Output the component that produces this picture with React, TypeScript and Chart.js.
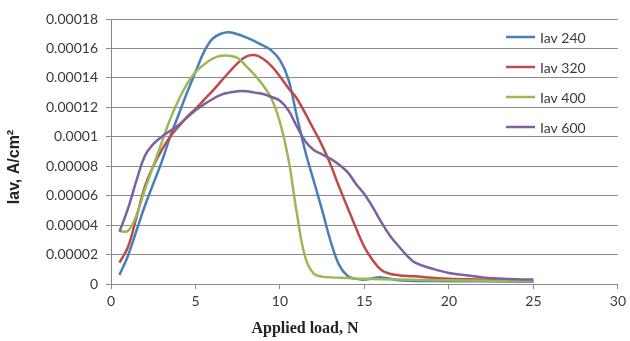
import React, { useEffect, useRef } from "react";
import { Chart, registerables } from "chart.js";

Chart.register(...registerables);

const seriesNames = ["Iav 240", "Iav 320", "Iav 400", "Iav 600"];
const seriesColors = ["#4A7EBB", "#BE4B48", "#98B954", "#7D60A0"];

const loads240 = [0.5, 1, 1.5, 2, 2.5, 3, 3.5, 4, 4.5, 5, 5.5, 6, 6.5, 7, 8, 9, 9.5, 10, 10.5, 11, 11.5, 12, 12.5, 13, 13.5, 14, 14.5, 15, 16, 17, 19, 22, 25];
const iav240 = [6.1e-6, 1.9e-5, 3.6e-5, 5.3e-5, 6.8e-5, 8.3e-5, 1.0e-4, 1.15e-4, 1.3e-4, 1.44e-4, 1.575e-4, 1.665e-4, 1.7e-4, 1.71e-4, 1.675e-4, 1.62e-4, 1.585e-4, 1.52e-4, 1.39e-4, 1.14e-4, 9.0e-5, 7.0e-5, 5.0e-5, 2.9e-5, 1.3e-5, 5.5e-6, 3.5e-6, 3e-6, 4.5e-6, 2.5e-6, 2e-6, 1.8e-6, 1.5e-6];

const loads320 = [0.5, 1, 1.5, 2, 2.5, 3, 3.5, 4, 4.5, 5, 5.5, 6, 6.5, 7, 7.5, 8, 8.5, 9, 9.5, 10, 10.5, 11, 12, 12.5, 13, 13.5, 14, 14.5, 15, 15.5, 16, 16.5, 17, 18, 19, 20, 22, 25];
const iav320 = [1.45e-5, 2.5e-5, 4.5e-5, 6.6e-5, 8.0e-5, 9.1e-5, 1.0e-4, 1.07e-4, 1.135e-4, 1.19e-4, 1.25e-4, 1.31e-4, 1.375e-4, 1.44e-4, 1.5e-4, 1.545e-4, 1.555e-4, 1.53e-4, 1.48e-4, 1.41e-4, 1.33e-4, 1.26e-4, 1.05e-4, 9.4e-5, 8.1e-5, 6.6e-5, 5.2e-5, 3.8e-5, 2.5e-5, 1.6e-5, 9.5e-6, 7e-6, 6e-6, 5.2e-6, 4.2e-6, 3.5e-6, 3e-6, 2.2e-6];

const loads400 = [0.5, 1, 1.5, 2, 2.5, 3, 3.5, 4, 4.5, 5, 5.5, 6, 6.5, 7, 7.5, 8, 8.5, 9, 9.5, 10, 10.5, 11, 11.5, 12, 12.5, 13, 14, 15, 17, 20, 25];
const iav400 = [3.6e-5, 3.6e-5, 4.65e-5, 6.4e-5, 8.0e-5, 9.6e-5, 1.12e-4, 1.25e-4, 1.36e-4, 1.44e-4, 1.49e-4, 1.53e-4, 1.55e-4, 1.55e-4, 1.535e-4, 1.48e-4, 1.42e-4, 1.35e-4, 1.26e-4, 1.1e-4, 8.5e-5, 4.8e-5, 1.8e-5, 7e-6, 5e-6, 4.5e-6, 4e-6, 3.5e-6, 3e-6, 2.5e-6, 2e-6];

const loads600 = [0.5, 1, 1.5, 2, 2.5, 3, 3.5, 4, 4.5, 5, 5.5, 6, 6.5, 7, 7.5, 8, 8.5, 9, 9.5, 10, 10.5, 11, 11.5, 12, 12.5, 13, 13.5, 14, 14.5, 15, 15.5, 16, 16.5, 17, 17.5, 18, 19, 20, 21, 22, 23, 24, 25];
const iav600 = [3.55e-5, 5.1e-5, 7.0e-5, 8.7e-5, 9.5e-5, 1.0e-4, 1.04e-4, 1.08e-4, 1.13e-4, 1.18e-4, 1.22e-4, 1.255e-4, 1.285e-4, 1.3e-4, 1.31e-4, 1.31e-4, 1.3e-4, 1.29e-4, 1.27e-4, 1.245e-4, 1.18e-4, 1.07e-4, 9.7e-5, 9.1e-5, 8.8e-5, 8.5e-5, 8.1e-5, 7.6e-5, 6.8e-5, 6.1e-5, 5.2e-5, 4.2e-5, 3.3e-5, 2.6e-5, 1.95e-5, 1.45e-5, 1.05e-5, 7.5e-6, 6e-6, 4.5e-6, 3.8e-6, 3.3e-6, 3e-6];

const xTickLabels = ["0", "5", "10", "15", "20", "25", "30"];
const yTickLabels = ["0", "0.00002", "0.00004", "0.00006", "0.00008", "0.0001", "0.00012", "0.00014", "0.00016", "0.00018"];

const xTitle = "Applied load, N";
const yTitle = "Iav, A/cm\u00B2";

const allLoads = [loads240, loads320, loads400, loads600];
const allIav = [iav240, iav320, iav400, iav600];

const GRID = "#8a8a8a";
const TEXT = "#3a3a3a";

export default function App() {
  const ref = useRef<HTMLCanvasElement | null>(null);

  useEffect(() => {
    if (!ref.current) return;
    const datasets = seriesNames.map((name, i) => ({
      label: name,
      data: allLoads[i].map((x, j) => ({ x, y: allIav[i][j] })),
      borderColor: seriesColors[i],
      backgroundColor: seriesColors[i],
      borderWidth: 2.5,
      pointRadius: 0,
      tension: 0.4,
      fill: false,
      order: 3 - i,
    }));

    const overlay = {
      id: "overlay",
      afterDraw(chart: any) {
        const ctx = chart.ctx;
        ctx.save();
        const rows = [37, 67, 97, 127];
        ctx.font = "14px Lato";
        ctx.textBaseline = "middle";
        ctx.textAlign = "left";
        seriesNames.forEach((n, i) => {
          ctx.strokeStyle = seriesColors[i];
          ctx.lineWidth = 2.5;
          ctx.beginPath();
          ctx.moveTo(506, rows[i]);
          ctx.lineTo(535, rows[i]);
          ctx.stroke();
          ctx.fillStyle = TEXT;
          ctx.fillText(n, 540, rows[i] + 1);
        });
        ctx.fillStyle = "#222";
        ctx.font = "bold 16px 'Liberation Serif'";
        ctx.textAlign = "center";
        ctx.fillText(xTitle, 305, 329);
        ctx.translate(15, 167);
        ctx.rotate(-Math.PI / 2);
        ctx.font = "bold 16px 'Liberation Sans'";
        ctx.fillText(yTitle, 0, 0);
        ctx.restore();
      },
    };

    const chart = new Chart(ref.current, {
      type: "line",
      data: { datasets },
      plugins: [overlay],
      options: {
        animation: false,
        responsive: false,
        layout: { padding: { top: 19, right: 11, left: 0, bottom: 0 } },
        plugins: { legend: { display: false }, tooltip: { enabled: false } },
        scales: {
          x: {
            type: "linear",
            min: 0,
            max: 30,
            ticks: {
              stepSize: 5,
              font: { family: "Lato", size: 14 },
              color: TEXT,
              padding: 4,
              maxRotation: 0,
              callback: (_v: any, i: number) => xTickLabels[i],
            },
            grid: { drawOnChartArea: false, drawTicks: true, tickLength: 5, color: GRID },
            border: { color: GRID, width: 1 },
            afterFit: (s: any) => { s.height = 57; },
          },
          y: {
            min: 0,
            max: 0.00018,
            ticks: {
              stepSize: 0.00002,
              font: { family: "Lato", size: 14 },
              color: TEXT,
              padding: 8,
              callback: (_v: any, i: number) => yTickLabels[i],
            },
            grid: { color: GRID, lineWidth: 1, tickLength: 5 },
            border: { color: GRID, width: 1 },
            afterFit: (s: any) => { s.width = 111; },
          },
        },
      },
    } as any);
    return () => chart.destroy();
  }, []);

  return (
    <div style={{ position: "fixed", left: 0, top: 0, width: 630, height: 341, background: "#fff" }}>
      <canvas ref={ref} width={630} height={341} />
    </div>
  );
}
